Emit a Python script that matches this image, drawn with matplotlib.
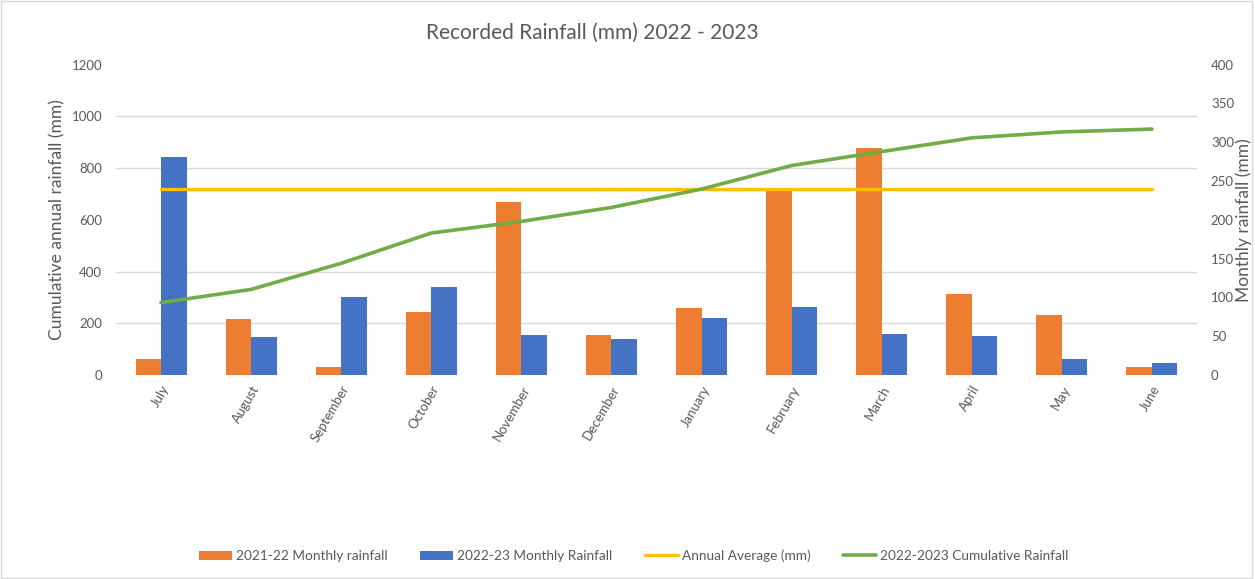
import numpy as np
import matplotlib
matplotlib.use("Agg")
import matplotlib.pyplot as plt
from matplotlib.patches import Rectangle

plt.rcParams["font.family"] = ["Lato", "DejaVu Sans"]

months = ["July", "August", "September", "October", "November", "December",
          "January", "February", "March", "April", "May", "June"]

# monthly totals (mm), right axis
rain_2021_22 = [21, 72, 10, 81, 223, 52, 87, 240, 292, 104, 77, 10]
rain_2022_23 = [281, 49, 101, 113, 51, 47, 74, 88, 53, 50, 21, 15]

# running total for 2022-23 and long-term average (mm), left axis
cumulative_2022_23 = [280, 331, 432, 549, 594, 648, 719, 810, 864, 917, 940, 951]
annual_average = [720] * len(months)

ORANGE = "#ED7D31"
BLUE = "#4472C4"
YELLOW = "#FFC000"
GREEN = "#70AD47"
GREY_TXT = "#595959"

fig = plt.figure(figsize=(12.55, 5.79), dpi=100)
ax_bar = fig.add_axes([0.0924, 0.3523, 0.8614, 0.536])
ax_line = ax_bar.twinx()

x = np.arange(len(months))
w = 0.283

# bars go on the monthly (right-hand) scale
b1 = ax_bar.bar(x - w / 2, rain_2021_22, w, color=ORANGE, label="2021-22 Monthly rainfall", zorder=2)
b2 = ax_bar.bar(x + w / 2, rain_2022_23, w, color=BLUE, label="2022-23 Monthly Rainfall", zorder=2)
ax_bar.set_ylim(0, 400)
ax_bar.set_yticks(np.arange(0, 401, 50))
ax_bar.yaxis.tick_right()
ax_bar.yaxis.set_label_position("right")

# gridlines follow the cumulative scale (every 200 mm)
ax_bar.set_yticks(np.linspace(0, 400, 7), minor=True)
ax_bar.grid(which="minor", axis="y", color="#D9D9D9", linewidth=1.0, zorder=0)
ax_bar.tick_params(axis="y", which="minor", length=0)

# lines on the cumulative (left-hand) scale
l1, = ax_line.plot(x, annual_average, color=YELLOW, linewidth=2.4, label="Annual Average (mm)",
                   solid_capstyle="round")
l2, = ax_line.plot(x, cumulative_2022_23, color=GREEN, linewidth=2.6,
                   label="2022-2023 Cumulative Rainfall", solid_capstyle="round")
ax_line.set_ylim(0, 1200)
ax_line.set_yticks(np.arange(0, 1201, 200))
ax_line.yaxis.tick_left()
ax_line.yaxis.set_label_position("left")

ax_bar.set_xlim(-0.5, len(months) - 0.5)
ax_bar.set_xticks(x)
ax_bar.set_xticklabels(months, rotation=60, ha="right", rotation_mode="anchor")

for ax in (ax_bar, ax_line):
    for s in ax.spines.values():
        s.set_visible(False)
    ax.tick_params(axis="both", which="major", length=0, labelsize=9.5, labelcolor=GREY_TXT)
ax_bar.tick_params(axis="y", pad=10)
ax_line.tick_params(axis="y", pad=10)
ax_bar.tick_params(axis="x", pad=6)

ax_line.set_ylabel("Cumulative annual rainfall (mm)", fontsize=12.5, color=GREY_TXT)
ax_line.yaxis.set_label_coords(-0.047, 0.5)
ax_bar.set_ylabel("Monthly rainfall (mm)", fontsize=12.5, color=GREY_TXT)
ax_bar.yaxis.set_label_coords(1.036, 0.5)

fig.text(0.4717, 0.943, "Recorded Rainfall (mm) 2022 - 2023", ha="center", va="center",
         fontsize=15, color=GREY_TXT)

fig.legend(handles=[b1, b2, l1, l2], loc="center", bbox_to_anchor=(0.505, 0.04), ncol=4,
           frameon=False, fontsize=9.8, labelcolor=GREY_TXT, handlelength=2.4,
           columnspacing=2.4, handletextpad=0.3)

# light frame round the whole chart
fig.patches.append(Rectangle((0.001, 0.002), 0.997, 0.996, transform=fig.transFigure,
                             fill=False, edgecolor="#D9D9D9", linewidth=1.0))

fig.savefig("out.png", dpi=100)
